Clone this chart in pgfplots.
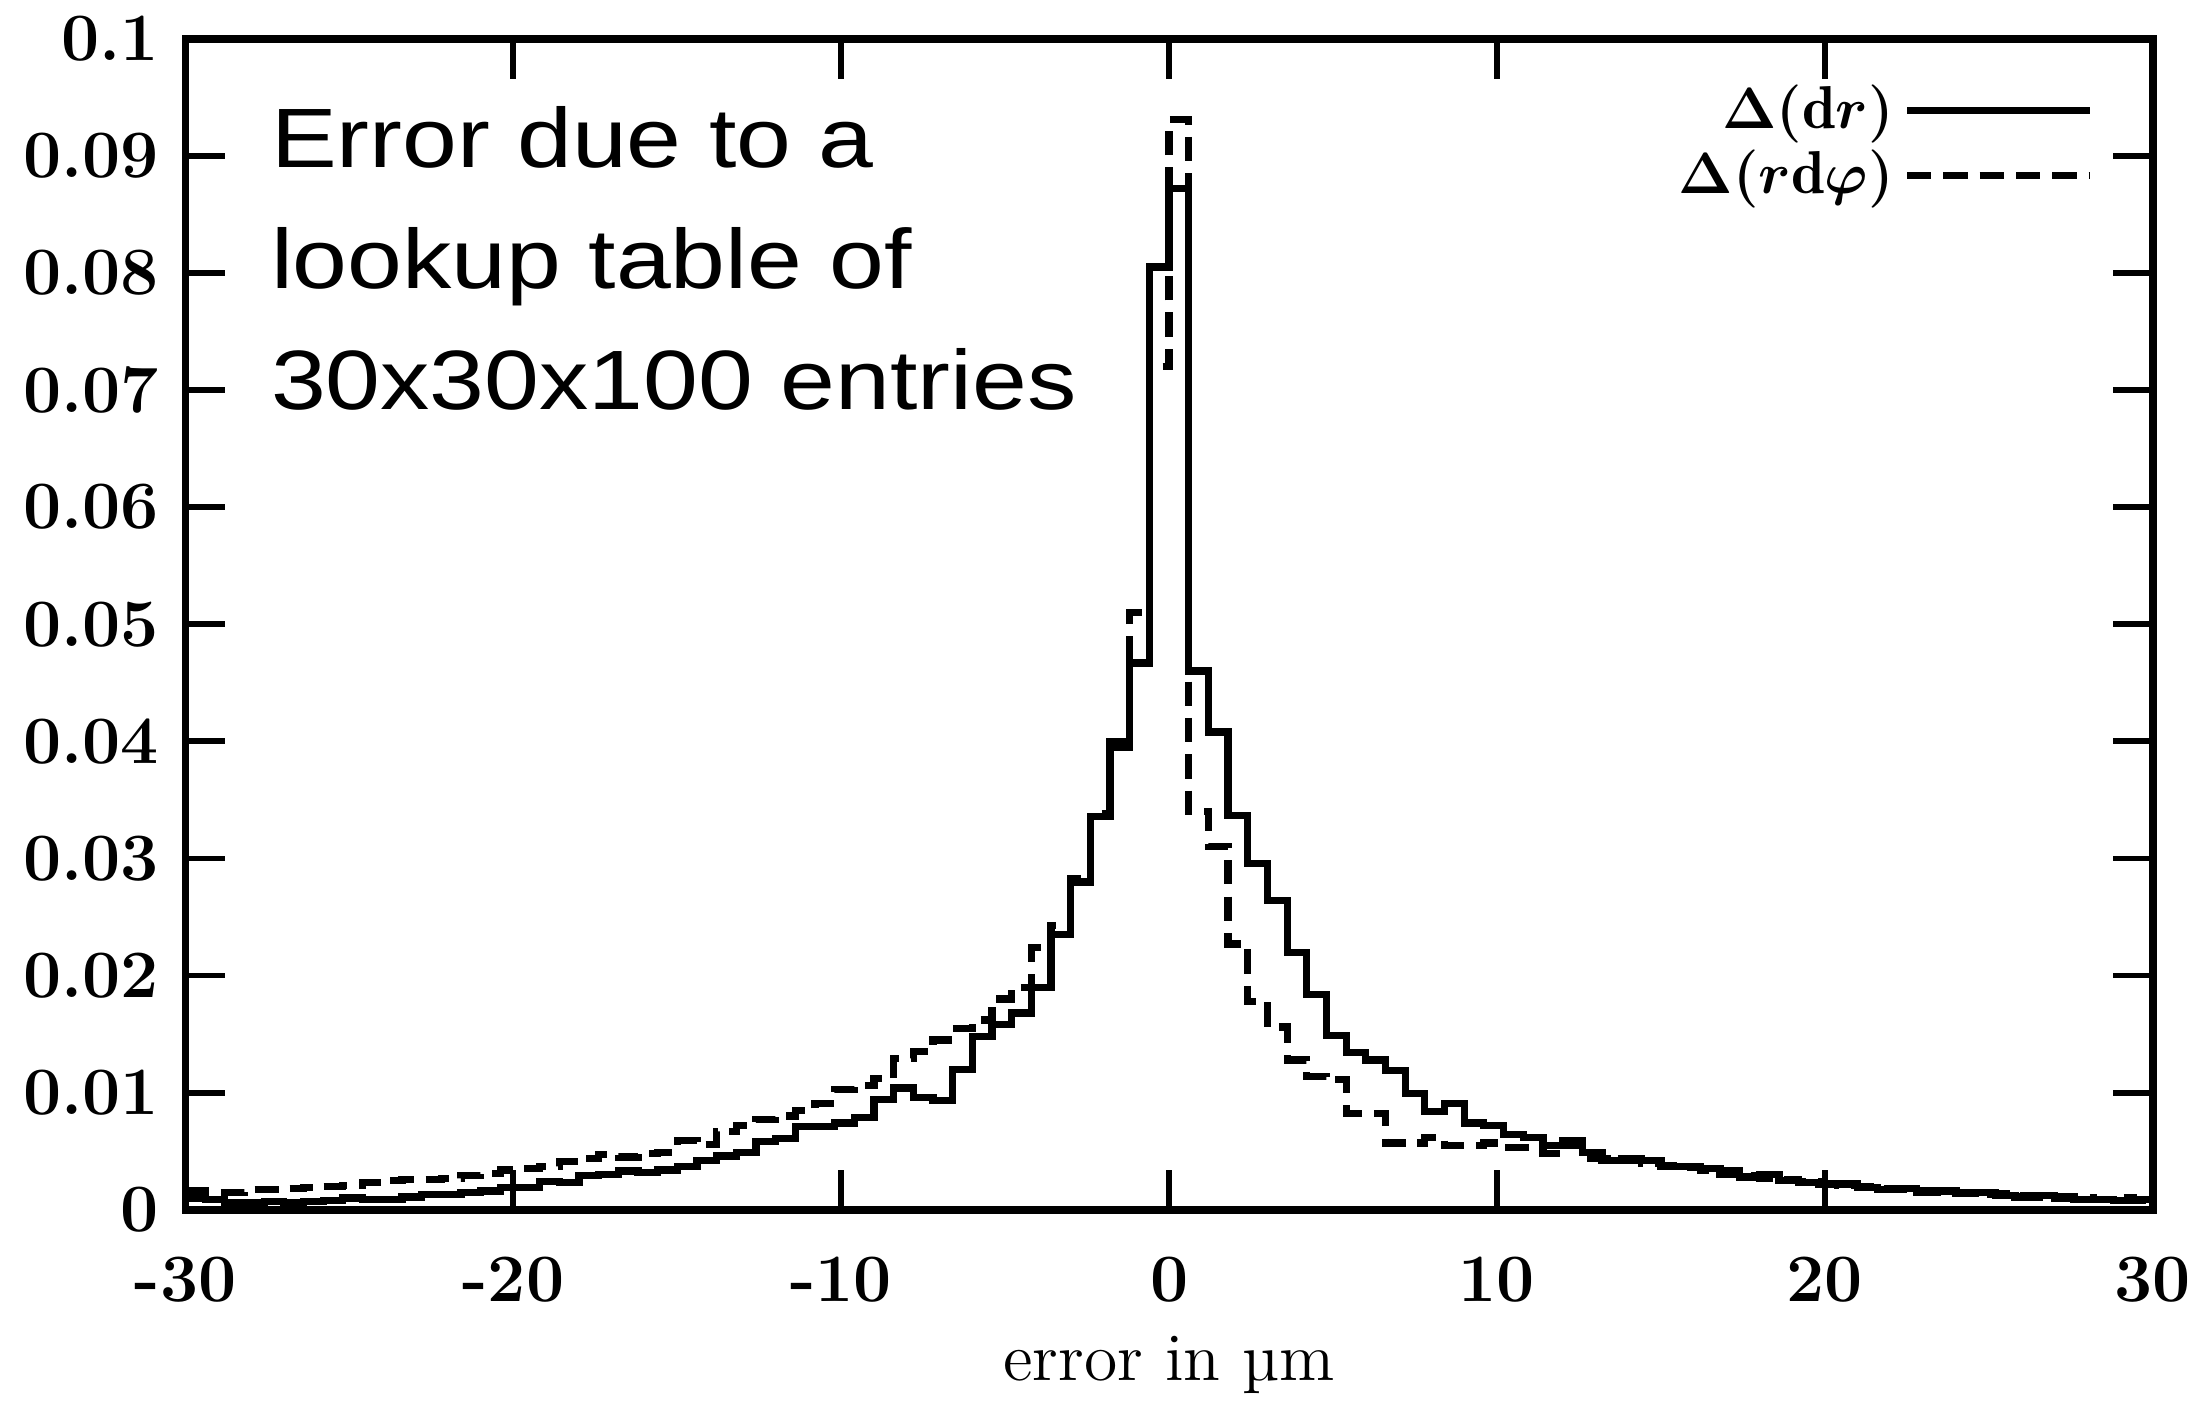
\documentclass[border={0.05cm 0pt 0pt 0pt}]{standalone}
\usepackage{fontspec}
\newfontfamily\arialfont{Liberation Sans}
\usepackage{pgfplots}
\pgfplotsset{compat=1.18}

% bin left edges (width 0.6), last point closes the final bin at 30
\pgfplotstableread{
x dr rdphi
-30.0 0.0010 0.0016
-29.4 0.0009 0.0015
-28.8 0.0006 0.0015
-28.2 0.0006 0.0017
-27.6 0.0007 0.0017
-27.0 0.0006 0.0018
-26.4 0.0007 0.0019
-25.8 0.0008 0.0020
-25.2 0.0010 0.0021
-24.6 0.0009 0.0023
-24.0 0.0009 0.0025
-23.4 0.0011 0.0026
-22.8 0.0013 0.0026
-22.2 0.0013 0.0027
-21.6 0.0015 0.0029
-21.0 0.0016 0.0031
-20.4 0.0019 0.0034
-19.8 0.0019 0.0035
-19.2 0.0024 0.0037
-18.6 0.0023 0.0041
-18.0 0.0029 0.0044
-17.4 0.0030 0.0047
-16.8 0.0033 0.0045
-16.2 0.0032 0.0048
-15.6 0.0034 0.0049
-15.0 0.0037 0.0059
-14.4 0.0042 0.0056
-13.8 0.0046 0.0067
-13.2 0.0049 0.0072
-12.6 0.0058 0.0077
-12.0 0.0061 0.0080
-11.4 0.0071 0.0085
-10.8 0.0071 0.0091
-10.2 0.0074 0.0103
-9.6 0.0079 0.0106
-9.0 0.0094 0.0112
-8.4 0.0104 0.0129
-7.8 0.0096 0.0135
-7.2 0.0093 0.0145
-6.6 0.0120 0.0155
-6.0 0.0148 0.0162
-5.4 0.0158 0.0180
-4.8 0.0168 0.0190
-4.2 0.0190 0.0224
-3.6 0.0235 0.0243
-3.0 0.0280 0.0283
-2.4 0.0336 0.0338
-1.8 0.0395 0.0400
-1.2 0.0467 0.0510
-0.6 0.0805 0.0720
0.0 0.0872 0.0931
0.6 0.0460 0.0340
1.2 0.0408 0.0310
1.8 0.0337 0.0227
2.4 0.0296 0.0178
3.0 0.0264 0.0156
3.6 0.0220 0.0128
4.2 0.0184 0.0114
4.8 0.0149 0.0111
5.4 0.0134 0.0082
6.0 0.0128 0.0082
6.6 0.0119 0.0057
7.2 0.0099 0.0057
7.8 0.0084 0.0062
8.4 0.0091 0.0055
9.0 0.0074 0.0055
9.6 0.0072 0.0057
10.2 0.0064 0.0053
10.8 0.0062 0.0053
11.4 0.0055 0.0048
12.0 0.0059 0.0055
12.6 0.0049 0.0044
13.2 0.0042 0.0044
13.8 0.0044 0.0042
14.4 0.0042 0.0040
15.0 0.0037 0.0038
15.6 0.0037 0.0036
16.2 0.0035 0.0034
16.8 0.0033 0.0030
17.4 0.0028 0.0029
18.0 0.0030 0.0027
18.6 0.0025 0.0026
19.2 0.0023 0.0024
19.8 0.0022 0.0022
20.4 0.0022 0.0021
21.0 0.0019 0.0020
21.6 0.0017 0.0018
22.2 0.0018 0.0017
22.8 0.0015 0.0016
23.4 0.0016 0.0015
24.0 0.0014 0.0015
24.6 0.0015 0.0013
25.2 0.0012 0.0014
25.8 0.0011 0.0012
26.4 0.0012 0.0011
27.0 0.0010 0.0011
27.6 0.0009 0.0010
28.2 0.0009 0.0009
28.8 0.0008 0.0010
29.4 0.0009 0.0008
30.0 0.0009 0.0008
}\histdata

\begin{document}
\begin{tikzpicture}
\begin{axis}[
  scale only axis, width=14.28cm, height=8.5cm,
  xmin=-30, xmax=30, ymin=0, ymax=0.1,
  xtick={-30,-20,-10,0,10,20,30},
  xticklabels={-30,-20,-10,0,10,20,30},
  ytick={0,0.01,0.02,0.03,0.04,0.05,0.06,0.07,0.08,0.09,0.1},
  yticklabels={0,0.01,0.02,0.03,0.04,0.05,0.06,0.07,0.08,0.09,0.1},
  tick label style={font=\fontsize{14}{16}\selectfont\bfseries},
  xticklabel style={yshift=-0.22cm},
  yticklabel style={xshift=-0.07cm},
  major tick length=0.29cm,
  tick style={line width=1.2pt, black},
  axis line style={line width=1.6pt},
  xlabel={error in µm},
  xlabel style={font=\fontsize{14}{16}\selectfont,
                at={(rel axis cs:0.5,0)}, anchor=base, yshift=-1.24cm},
  legend style={draw=none, fill=none, at={(rel axis cs:0.978,0.978)}, anchor=north east,
                font=\fontsize{12.5}{14}\selectfont\boldmath, row sep=-1pt},
  legend cell align=right,
  legend plot pos=right,
  legend image code/.code={\draw[#1] (0.15cm,0cm) -- (1.48cm,0cm);},
]
\addplot[const plot, black, line width=1.5pt] table[x=x, y=dr] {\histdata};
\addlegendentry{$\Delta(\mathrm{d}r)$}
\addplot[const plot, black, line width=1.5pt, dash pattern=on 5pt off 2.5pt] table[x=x, y=rdphi] {\histdata};
\addlegendentry{$\Delta(r\mathrm{d}\varphi)$}
\node[anchor=north west, inner sep=0pt] at (rel axis cs:0.043,0.963)
  {\scalebox{1.17}[1]{\arialfont\fontsize{17.4}{25}\selectfont
   \begin{tabular}{@{}l@{}}Error due to a\\lookup table of\\30x30x100 entries\end{tabular}}};
\end{axis}
\end{tikzpicture}
\end{document}
